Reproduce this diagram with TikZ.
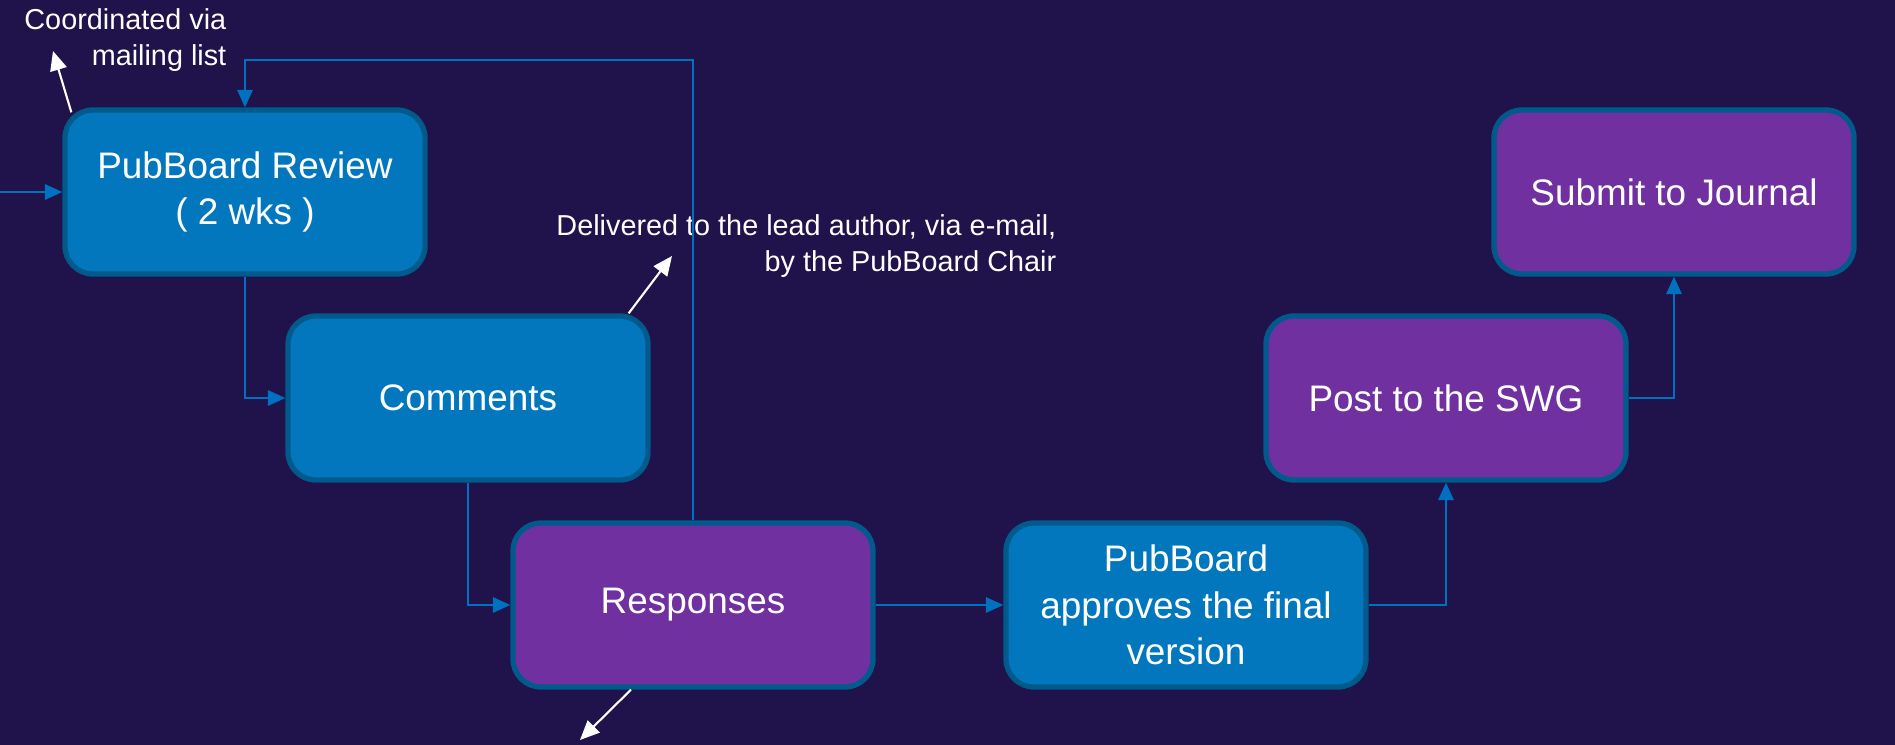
\documentclass[tikz,border=0pt]{standalone}
\usepackage{fontspec}
\setmainfont{Liberation Sans}
\usetikzlibrary{arrows.meta}
\definecolor{bgnavy}{HTML}{20124A}
\definecolor{boxblue}{HTML}{0277BD}
\definecolor{boxpurple}{HTML}{7030A0}
\definecolor{rimblue}{HTML}{015A8C}
\definecolor{linkblue}{HTML}{0070C0}

\begin{document}
\begin{tikzpicture}[
  stage/.style={rectangle,rounded corners=0.28cm,draw=rimblue,line width=1.5pt,
    minimum width=3.60cm,minimum height=1.64cm,text=white,align=center,
    font=\fontsize{10.5}{13.2}\selectfont},
  review/.style={stage,fill=boxblue},
  reply/.style={stage,fill=boxpurple},
  link/.style={draw=linkblue,line width=0.6pt,-{Triangle[length=5pt,width=4.4pt]}},
  pointer/.style={draw=white,line width=0.6pt,-{Triangle[length=5.5pt,width=4.8pt]}},
  note/.style={text=white,align=right,inner sep=0pt,font=\fontsize{8.2}{10}\selectfont}]
\useasboundingbox (0,0) rectangle (18.95,7.44);
\fill[bgnavy] (-0.1,-0.1) rectangle (19.05,7.54);

\node[review] at (2.45,5.52) (rev) {PubBoard Review\\( 2 wks )};
\node[review] at (4.68,3.46) (com) {Comments};
\node[reply] at (6.93,1.39) (resp) {Responses};
\node[review] at (11.86,1.39) (appr) {PubBoard\\approves the final\\version};
\node[reply] at (14.46,3.46) (swg) {Post to the SWG};
\node[reply] at (16.74,5.52) (jour) {Submit to Journal};

\node[note,anchor=east] at (2.27,7.04) (coordnote) {Coordinated via\\mailing list};
\node[note,anchor=east] at (10.57,4.98) (mailnote) {Delivered to the lead author, via e-mail,\\by the PubBoard Chair};

\coordinate (start) at (0,5.52);
\coordinate (back) at (6.93,6.84);
\coordinate (coordtip) at (0.53,6.93);
\coordinate (mailtip) at (6.72,4.88);
\coordinate (outtip) at (5.80,0.04);

\draw[link] (start) -- (rev);
\draw[link] (rev.south) |- (com.west);
\draw[link] (com.south) |- (resp.west);
\draw[link] (resp.north) -- (back) -| (rev.north);
\draw[link] (resp.east) -- (appr.west);
\draw[link] (appr.east) -| (swg.south);
\draw[link] (swg.east) -| (jour.south);

\draw[pointer] ([xshift=0.9mm,yshift=-0.5mm]rev.north west) -- (coordtip);
\draw[pointer] ([xshift=-2.2mm]com.north east) -- (mailtip);
\draw[pointer] ([xshift=-6.2mm]resp.south) -- (outtip);
\end{tikzpicture}
\end{document}
